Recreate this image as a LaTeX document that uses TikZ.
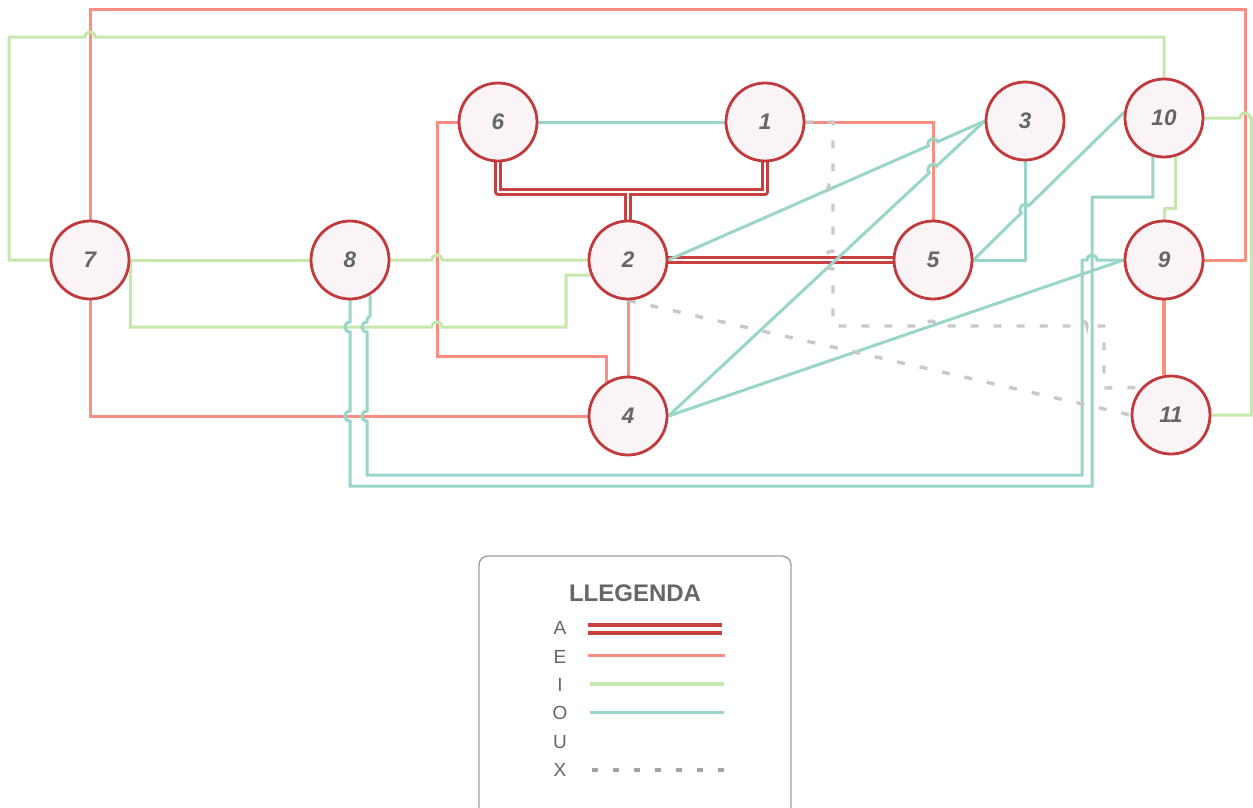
\documentclass[tikz,border=0pt]{standalone}
\usepackage{fontspec}
\setmainfont{Liberation Sans}
\usetikzlibrary{backgrounds,calc}
\definecolor{relA}{HTML}{C94040}
\definecolor{relE}{HTML}{FB8E80}
\definecolor{relI}{HTML}{C7E8AC}
\definecolor{relO}{HTML}{99D5C9}
\definecolor{relX}{HTML}{C9C9C9}
\definecolor{relXkey}{HTML}{A3A3A3}
\definecolor{nodeline}{HTML}{C2393B}
\definecolor{nodefill}{HTML}{FAF4F6}
\definecolor{labelgray}{HTML}{666666}
\definecolor{boxgray}{HTML}{A0A0A0}

\begin{document}
\begin{tikzpicture}[x=1pt,y=-1pt,
  dept/.style={circle, draw=nodeline, line width=2.8pt, fill=nodefill,
    minimum size=78pt, inner sep=0pt, text=labelgray,
    font=\fontsize{22.5}{22.5}\selectfont\bfseries\itshape},
  linkA/.style={draw=relA, line width=2.7pt, double=white, double distance=2.6pt},
  linkE/.style={draw=relE, line width=3pt},
  linkI/.style={draw=relI, line width=3pt},
  linkO/.style={draw=relO, line width=3pt},
  linkX/.style={draw=relX, line width=3.4pt, dash pattern=on 8pt off 15pt},
  keyletter/.style={text=labelgray, font=\fontsize{19}{19}\selectfont, inner sep=0pt},
  keytitle/.style={text=labelgray, font=\fontsize{24}{24}\selectfont\bfseries, inner sep=0pt},
  keybox/.style={draw=boxgray, line width=1.4pt, rounded corners=9pt}
]
\useasboundingbox (0,0) rectangle (1253,807);

% departments
\node[dept] (n6)  at (498,122)  {6};
\node[dept] (n1)  at (765,122)  {1};
\node[dept] (n3)  at (1025,121) {3};
\node[dept] (n10) at (1164,118) {10};
\node[dept] (n7)  at (90,260)   {7};
\node[dept] (n8)  at (350,260)  {8};
\node[dept] (n2)  at (628,260)  {2};
\node[dept] (n5)  at (933,260)  {5};
\node[dept] (n9)  at (1164,260) {9};
\node[dept] (n4)  at (628,416)  {4};
\node[dept] (n11) at (1171,415) {11};

\begin{pgfonlayer}{background}
\fill[white] (0,0) rectangle (1253,807);

% E relations
\draw[linkE] (n7.north) |- (1245,9) |- (n9.east);
\draw[linkE] (n7.south) |- (n4.west);
\draw[linkE] (n6.west) -| (437,356) -| (n4.123);
\draw[linkE] (n1.east) -| (n5.north);
\draw[linkE] (n2.south) -- (n4.north);
\draw[linkE, line width=3.8pt] (n9.south) -- (n9.south |- n11.north);

% I relations
\draw[linkI] (n10.north) |- (95,37) .. controls +(0,-6.7) and +(0,-6.7) .. (85,37) -| (9,260) -- (n7.west);
\draw[linkI] (n7.east) -- (n8.west);
\draw[linkI] (n8.east) -- (432,260) .. controls +(0,-6.7) and +(0,-6.7) .. (442,260) -- (n2.west);
\draw[linkI] (n7.east) |- (432,327) .. controls +(0,-6.7) and +(0,-6.7) .. (442,327) -- (566,327) |- (n2.202);
\draw[linkI] (n10.east) -- (1240,118) .. controls +(0,-6.7) and +(0,-6.7) .. (1250,118) -| (1251.3,415) -- (n11.east);
\draw[linkI] (n10.286) |- (1164,208) -- (n9.north);

% A relations
\coordinate (bus) at (628,192);
\draw[linkA, line join=round] (n6.south) |- (bus) -| (n1.south) (bus) -- (n2.north);
\draw[linkA] (n2) -- (n5);

% O relations
\draw[linkO] (n6.east) -- (n1.west);
\draw[linkO] (n2.east) -- (928.4,145.8) .. controls +(-2.7,-6.1) and +(-2.7,-6.1) .. (937.6,141.8) -- (n3.west);
\draw[linkO] (n4.east) -- (929.3,172.8) .. controls +(-4.6,-4.9) and +(-4.6,-4.9) .. (936.7,166.0) -- (n3.west);
\draw[linkO] (n5.east) -| (n3.south);
\draw[linkO] (n5.east) -- (1021.4,212.8) .. controls +(-4.7,-4.8) and +(-4.7,-4.8) .. (1028.6,205.8) -- (n10.172);
\draw[linkO] (n4.east) -- (n9.west);
\draw[linkO] (n8.south) -- (350,322) .. controls +(-6.7,0) and +(-6.7,0) .. (350,332)
  -- (350,411) .. controls +(-6.7,0) and +(-6.7,0) .. (350,421)
  -- (350,486) -| (1092,197) -| (n10.254);
\draw[linkO] (n8.300) -- (370,316) -- (367,319) -- (367,322) .. controls +(-6.7,0) and +(-6.7,0) .. (367,332)
  -- (367,411) .. controls +(-6.7,0) and +(-6.7,0) .. (367,421)
  |- (1082,475) |- (1087,260) .. controls +(0,-6.7) and +(0,-6.7) .. (1097,260) -- (n9.west);

% X relations
\draw[linkX] (n1.east) -- (833,122) -- (833,183) .. controls +(-6.7,0) and +(-6.7,0) .. (833,193)
  -- (833,251) .. controls +(-12,0) and +(-12,0) .. (833,269)
  -- (833,326) -- (926,326) .. controls +(0,-6.7) and +(0,-6.7) .. (936,326)
  -- (1077,326) .. controls +(0,-6.7) and +(0,-6.7) .. (1087,326)
  .. controls +(0,-6.7) and +(0,-6.7) .. (1097,326)
  -- (1104,326) -- (1104,388) -- (n11.137.5);
\draw[linkX] (n2.south) -- (n11.west);
\end{pgfonlayer}

% key
\draw[keybox] (479,556) rectangle (791,840);
\node[keytitle] (keyhead) at (635,593) {LLEGENDA};
\node[keyletter] (kA) at (560,628) {A};
\node[keyletter] (kE) at (560,657) {E};
\node[keyletter] (kI) at (560,685) {I};
\node[keyletter] (kO) at (560,713) {O};
\node[keyletter] (kU) at (560,742) {U};
\node[keyletter] (kX) at (560,770) {X};
\draw[draw=relA, line width=4.2pt, double=white, double distance=3.6pt] (588,629) -- (722,629);
\draw[draw=relE, line width=3.2pt] (588,655.5) -- (725,655.5);
\draw[draw=relI, line width=3.2pt] (590,684) -- (724,684);
\draw[draw=relO, line width=3.2pt] (590,712.5) -- (724,712.5);
\draw[draw=relXkey, line width=3.5pt, dash pattern=on 6pt off 15pt] (592,770) -- (730,770);
\end{tikzpicture}
\end{document}
